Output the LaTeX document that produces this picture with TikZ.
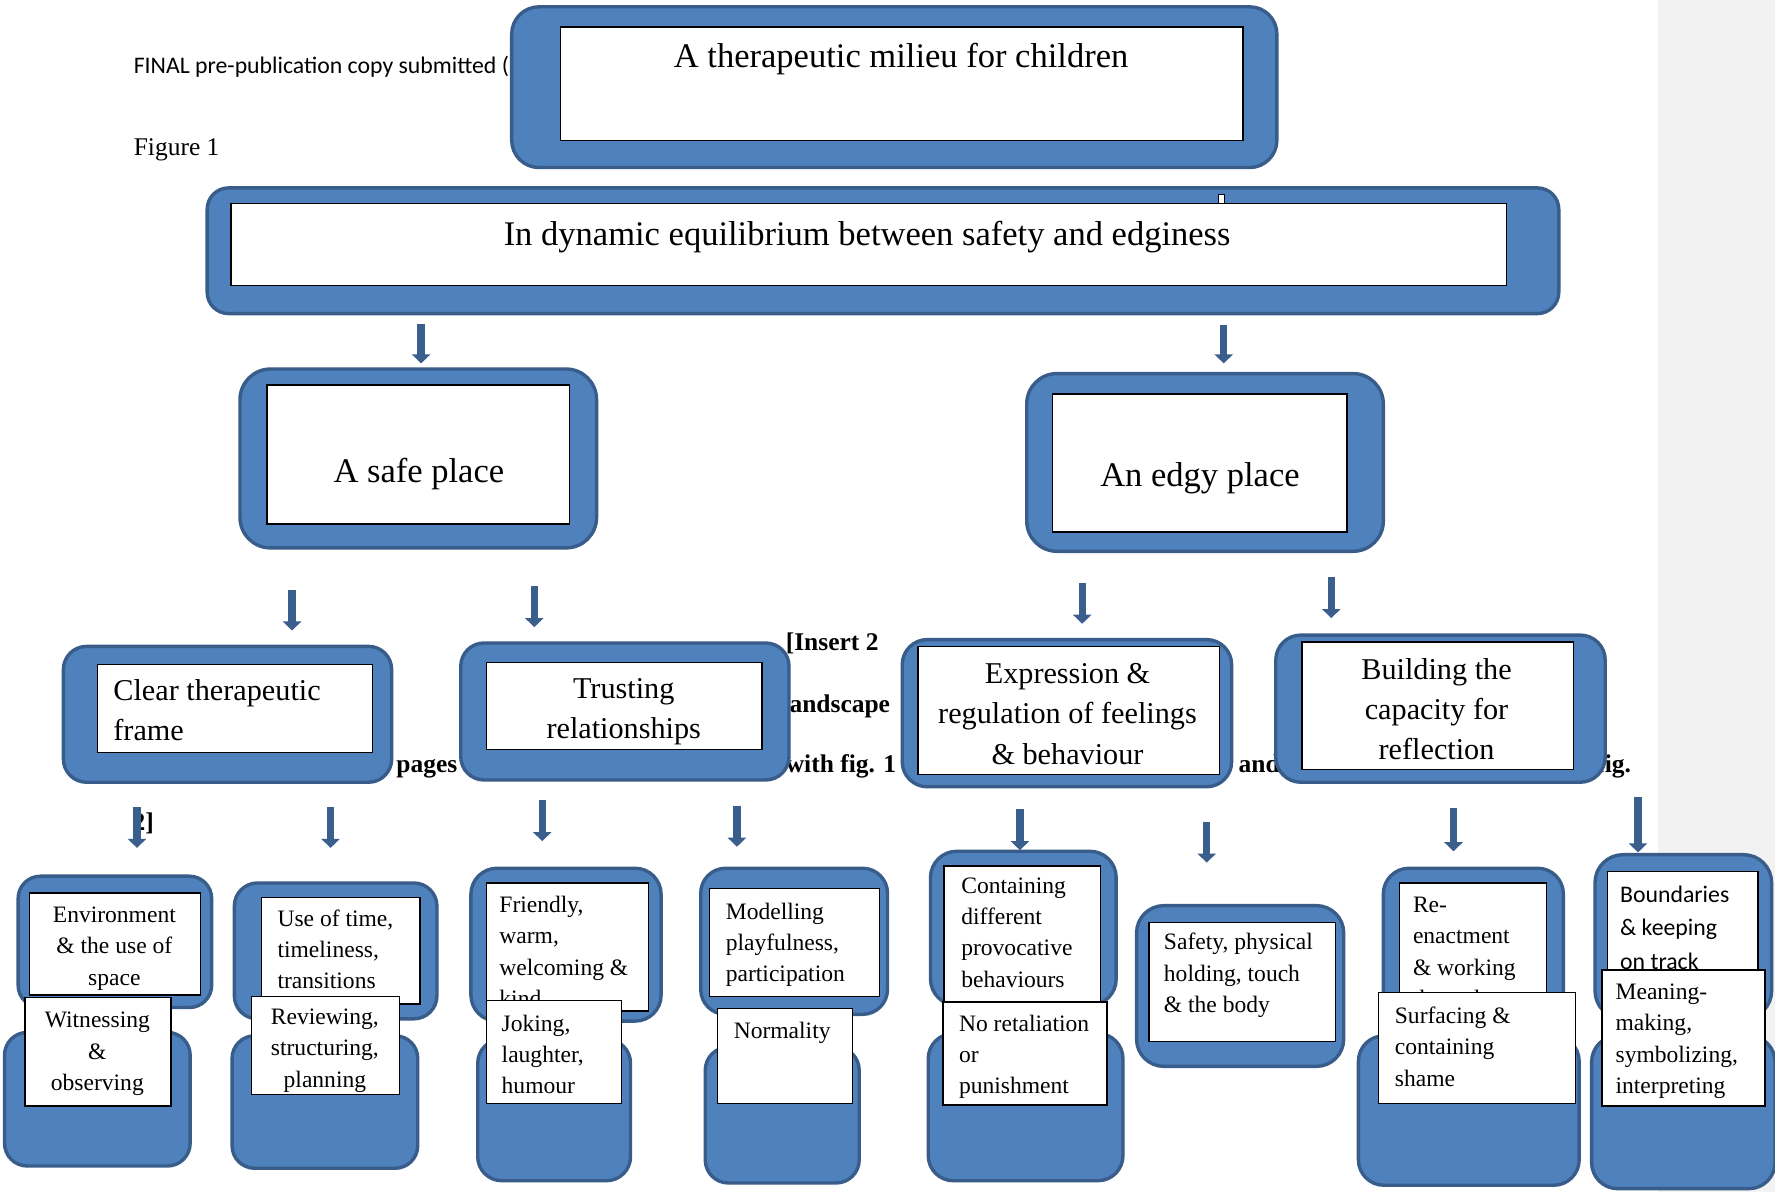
\documentclass[tikz,border=0pt]{standalone}
\usepackage{fontspec}
\setmainfont{Liberation Serif}
\newfontfamily\calib{Carlito}
\usetikzlibrary{arrows.meta}
\definecolor{bfill}{HTML}{4F81BD}
\definecolor{bline}{HTML}{385D8A}
\definecolor{arrc}{HTML}{3A5F8C}
\definecolor{strip}{HTML}{F2F2F2}
\newcommand\ltxt[1]{\parbox[t]{400pt}{#1}}
\newcommand\ctxt[1]{\parbox[t]{400pt}{\centering #1}}
\newcommand\bbox[4]{\pgfmathsetmacro\rr{0.17*min(#3-#1,#4-#2)}%
  \draw[bluebox,rounded corners=\rr pt] (#1,#2) rectangle (#3,#4);}
\newcommand\wtxt[5]{\draw[wbox] (#1,#2) rectangle (#3,#4);
  \begin{scope}\clip (#1,#2) rectangle (#3,#4); #5 \end{scope}}
\tikzset{
  bluebox/.style={fill=bfill, draw=bline, line width=3pt},
  wbox/.style={fill=white, draw=black, line width=1.2pt},
  darr/.style={draw=arrc, line width=6.5pt, -{Triangle[width=16pt,length=8pt]}},
  hdr/.style={anchor=base, inner sep=0pt, font=\fontsize{30.5}{36}\selectfont},
  midl/.style={anchor=base west, inner sep=0pt, font=\fontsize{26.7}{35.5}\selectfont},
  midc/.style={anchor=base, inner sep=0pt, font=\fontsize{26.7}{35.5}\selectfont},
  lowl/.style={anchor=base west, inner sep=0pt, font=\fontsize{20.8}{27.7}\selectfont},
  lowc/.style={anchor=base, inner sep=0pt, font=\fontsize{20.8}{27.7}\selectfont},
  lows/.style={anchor=base west, inner sep=0pt, font=\calib\fontsize{21}{29.5}\selectfont},
  boldt/.style={anchor=base west, inner sep=0pt, font=\fontsize{22.5}{26}\selectfont\bfseries},
  plain/.style={anchor=base west, inner sep=0pt, font=\fontsize{22.5}{26}\selectfont},
  sanst/.style={anchor=base west, inner sep=0pt, font=\calib\fontsize{21}{24}\selectfont}
}
\begin{document}
\begin{tikzpicture}[x=1pt,y=-1pt]
\useasboundingbox (0,0) rectangle (1568,1053);
\fill[white] (0,0) rectangle (1568,1053);
\fill[strip] (1465,0) rectangle (1568,1053);

% background document text
\node[sanst] (hdrtxt) at (118,65) {FINAL pre-publication copy submitted (};
\node[plain] (figtxt) at (118,137) {Figure 1};
\node[boldt] (ins) at (694,575) {[Insert 2};
\node[boldt] (lsc) at (691,629) {landscape};
\node[boldt] (wfg) at (694,682) {with fig. 1};
\node[boldt] (pgs) at (350,682) {pages};
\node[boldt] (andt) at (1094,682) {and};
\node[boldt] (fgt) at (1410,682) {fig.};
\node[boldt] (two) at (117,734) {2]};

% top
\bbox{452}{6}{1128}{148}
\draw[wbox] (495,24) rectangle (1098,124);
\node[hdr] (milieu) at (796,60) {A therapeutic milieu for children};

\bbox{183}{166}{1377}{277}
\draw[wbox] (204,180) rectangle (1331,252);
\draw[fill=white, draw=black, line width=0.8pt] (1076,172) rectangle (1082,180);
\node[hdr] (equil) at (766,217) {In dynamic equilibrium between safety and edginess};

% arrows level 1
\coordinate (a1s) at (372,286); \coordinate (a1e) at (372,321);
\coordinate (a2s) at (1081,287); \coordinate (a2e) at (1081,321);
\draw[darr] (a1s) -- (a1e);
\draw[darr] (a2s) -- (a2e);

% level 2
\bbox{212}{326}{527}{484}
\draw[wbox] (236,340) rectangle (503,463);
\node[hdr] (safe) at (370,426) {A safe place};

\bbox{907}{330}{1222}{487}
\draw[wbox] (930,348) rectangle (1190,470);
\node[hdr] (edgy) at (1060,430) {An edgy place};

% arrows level 2
\coordinate (b1s) at (258,521); \coordinate (b1e) at (258,557);
\coordinate (b2s) at (472,518); \coordinate (b2e) at (472,554);
\coordinate (b3s) at (956,515); \coordinate (b3e) at (956,551);
\coordinate (b4s) at (1176,510); \coordinate (b4e) at (1176,546);
\foreach \i in {1,...,4} {\draw[darr] (b\i s) -- (b\i e);}

% level 3
\bbox{56}{571}{346}{691}
\wtxt{86}{587}{329}{665}{\node[midl] (clear) at (100,619) {\ltxt{Clear therapeutic\\frame}};}

\bbox{407}{568}{697}{689}
\wtxt{430}{585}{673}{662}{\node[midc] (trust) at (551,617) {\ctxt{Trusting\\relationships}};}

\bbox{797}{565}{1088}{695}
\wtxt{811}{571}{1077}{684}{\node[midc] (expr) at (943,604) {\ctxt{Expression \&\\regulation of feelings\\\& behaviour}};}

\bbox{1127}{561}{1418}{691}
\wtxt{1150}{567}{1390}{680}{\node[midc] (build) at (1269,600) {\ctxt{Building the\\capacity for\\reflection}};}

% arrows level 3
\coordinate (c1s) at (121,713); \coordinate (c1e) at (121,749);
\coordinate (c2s) at (292,713); \coordinate (c2e) at (292,749);
\coordinate (c3s) at (479,707); \coordinate (c3e) at (479,743);
\coordinate (c4s) at (651,712); \coordinate (c4e) at (651,748);
\coordinate (c5s) at (901,715); \coordinate (c5e) at (901,751);
\coordinate (c6s) at (1066,726); \coordinate (c6e) at (1066,762);
\coordinate (c7s) at (1284,714); \coordinate (c7e) at (1284,752);
\coordinate (c8s) at (1447,704); \coordinate (c8e) at (1447,753);
\foreach \i in {1,...,8} {\draw[darr] (c\i s) -- (c\i e);}

% group A
\bbox{16}{774}{187}{890}
\wtxt{26}{789}{177}{879}{\node[lowc] (env) at (101,815) {\ctxt{Environment\\\& the use of\\space}};}
\bbox{4}{912}{168}{1030}
\wtxt{22}{881}{151}{977}{\node[lowc] (wit) at (86,908) {\ctxt{Witnessing\\\&\\observing}};}

% group B
\bbox{207}{780}{386}{900}
\wtxt{231}{793}{371}{887}{\node[lowl] (time) at (245,818) {\ltxt{Use of time,\\timeliness,\\transitions}};}
\bbox{205}{915}{369}{1032}
\wtxt{222}{880}{353}{967}{\node[lowc] (rev) at (287,905) {\ctxt{Reviewing,\\structuring,\\planning}};}

% group C
\bbox{416}{767}{584}{902}
\wtxt{430}{780}{573}{893}{\node[lowl] (friend) at (441,806) {\ltxt{Friendly,\\warm,\\welcoming \&\\kind}};}
\bbox{422}{918}{557}{1043}
\wtxt{430}{884}{549}{975}{\node[lowl] (joke) at (443,911) {\ltxt{Joking,\\laughter,\\humour}};}

% group D
\bbox{619}{767}{784}{896}
\wtxt{627}{785}{777}{880}{\node[lowl] (model) at (641,812) {\ltxt{Modelling\\playfulness,\\participation}};}
\bbox{623}{925}{759}{1045}
\wtxt{634}{891}{753}{975}{\node[lowl] (norm) at (648,917) {\ltxt{Normality}};}

% group E
\bbox{822}{752}{986}{888}
\wtxt{834}{765}{972}{885}{\node[lowl] (cont) at (849,789) {\ltxt{Containing\\different\\provocative\\behaviours}};}
\bbox{820}{913}{992}{1043}
\wtxt{833}{885}{978}{976}{\node[lowl] (noret) at (847,911) {\ltxt{No retaliation\\or\\punishment}};}

% group F
\bbox{1004}{800}{1187}{942}
\wtxt{1015}{815}{1180}{920}{\node[lowl] (safety) at (1028,839) {\ltxt{Safety, physical\\holding, touch\\\& the body}};}

% group G
\bbox{1222}{767}{1381}{900}
\wtxt{1236}{780}{1366}{890}{\node[lowl] (reen) at (1248,806) {\ltxt{Re-\\enactment\\\& working\\through}};}
\bbox{1200}{915}{1395}{1047}
\wtxt{1218}{877}{1392}{975}{\node[lowl] (surf) at (1232,904) {\ltxt{Surfacing \&\\containing\\shame}};}

% group H
\bbox{1409}{755}{1565}{900}
\wtxt{1420}{770}{1553}{870}{\node[lows] (bound) at (1431,797) {\ltxt{Boundaries\\\& keeping\\on track}};}
\bbox{1406}{915}{1568}{1050}
\wtxt{1415}{857}{1559}{977}{\node[lowl] (mean) at (1427,883) {\ltxt{Meaning-\\making,\\symbolizing,\\interpreting}};}
\end{tikzpicture}
\end{document}
